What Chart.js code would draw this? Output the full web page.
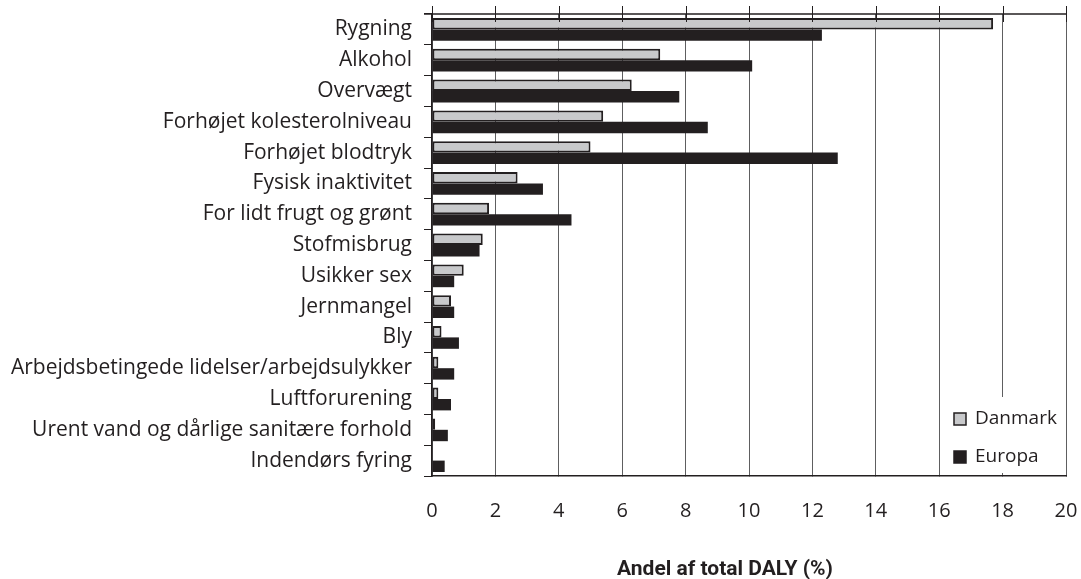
<!DOCTYPE html>
<html>
<head>
<meta charset="utf-8">
<script src="https://cdn.jsdelivr.net/npm/chart.js@4"></script>
<style>
  body { margin: 0; background: #fff; }
</style>
</head>
<body>
<canvas id="myGraph" width="1081" height="579"></canvas>
<script>
// Risikofaktorer (kategorier)
const categories = [
  "Rygning",
  "Alkohol",
  "Overvægt",
  "Forhøjet kolesterolniveau",
  "Forhøjet blodtryk",
  "Fysisk inaktivitet",
  "For lidt frugt og grønt",
  "Stofmisbrug",
  "Usikker sex",
  "Jernmangel",
  "Bly",
  "Arbejdsbetingede lidelser/arbejdsulykker",
  "Luftforurening",
  "Urent vand og dårlige sanitære forhold",
  "Indendørs fyring",
];

// Andel af total DALY (%)
const danmark = [17.7, 7.2, 6.3, 5.4, 5.0, 2.7, 1.8, 1.6, 1.0, 0.6, 0.3, 0.2, 0.2, 0.1, 0];
const europa = [12.3, 10.1, 7.8, 8.7, 12.8, 3.5, 4.4, 1.5, 0.7, 0.7, 0.85, 0.7, 0.6, 0.5, 0.4];

const seriesNames = ["Danmark", "Europa"];
const xTicks = [0, 2, 4, 6, 8, 10, 12, 14, 16, 18, 20];
const axisTitle = "Andel af total DALY (%)";

const ink = "#231f20";
const fontFamily = "'Open Sans', 'Noto Sans', sans-serif";

// ramme foroven med små streger
const topFrame = {
  id: "topFrame",
  afterDatasetsDraw(chart) {
    const { ctx, chartArea } = chart;
    const x = chart.scales.x;
    ctx.save();
    ctx.strokeStyle = ink;
    ctx.lineWidth = 1.5;
    ctx.beginPath();
    ctx.moveTo(chartArea.left - 8, chartArea.top);
    ctx.lineTo(chartArea.right, chartArea.top);
    ctx.stroke();
    ctx.lineWidth = 1;
    xTicks.forEach((v) => {
      const px = Math.round(x.getPixelForValue(v)) + 0.5;
      ctx.beginPath();
      ctx.moveTo(px, chartArea.top - 8);
      ctx.lineTo(px, chartArea.top + 8);
      ctx.stroke();
    });
    ctx.restore();
  },
};

// forklaring nederst til højre i plotområdet
const boxLegend = {
  id: "boxLegend",
  afterDraw(chart) {
    const { ctx, chartArea } = chart;
    const right = chartArea.right - 2;
    const bottom = chartArea.bottom - 3;
    const w = 118;
    const h = 76;
    ctx.save();
    ctx.fillStyle = "#fff";
    ctx.fillRect(right - w, bottom - h, w, h);
    ctx.font = "19px " + fontFamily;
    ctx.textBaseline = "middle";
    chart.data.datasets.forEach((ds, i) => {
      const cy = bottom - h + 22 + i * 38;
      const sx = right - w + 8;
      ctx.fillStyle = ds.backgroundColor;
      ctx.fillRect(sx, cy - 6, 12, 12);
      ctx.strokeStyle = ink;
      ctx.lineWidth = 1.5;
      ctx.strokeRect(sx, cy - 6, 12, 12);
      ctx.fillStyle = ink;
      ctx.fillText(ds.label, sx + 21, cy);
    });
    ctx.restore();
  },
};

// aksetitel
const axisLabel = {
  id: "axisLabel",
  afterDraw(chart) {
    const { ctx, chartArea } = chart;
    ctx.save();
    ctx.font = "bold 21px 'Liberation Sans Narrow', 'Roboto', sans-serif";
    ctx.fillStyle = ink;
    ctx.textAlign = "center";
    ctx.textBaseline = "alphabetic";
    ctx.fillText(axisTitle, (chartArea.left + chartArea.right) / 2 - 24, 575);
    ctx.restore();
  },
};

const ctx = document.getElementById("myGraph").getContext("2d");
const myChart = new Chart(ctx, {
  type: "bar",
  data: {
    labels: categories,
    datasets: [
      {
        label: seriesNames[0],
        data: danmark,
        backgroundColor: "#c8c9cb",
        borderColor: ink,
        borderWidth: 2,
        borderSkipped: false,
      },
      {
        label: seriesNames[1],
        data: europa,
        backgroundColor: ink,
        borderColor: ink,
        borderWidth: 0,
      },
    ],
  },
  options: {
    indexAxis: "y",
    responsive: false,
    animation: false,
    categoryPercentage: 0.74,
    barPercentage: 1,
    layout: {
      padding: { top: 14, right: 15, left: 0, bottom: 0 },
    },
    scales: {
      x: {
        min: 0,
        max: 20,
        afterFit: (scale) => {
          scale.height = 103;
          scale.paddingLeft = 0;
          scale.paddingRight = 0;
        },
        afterBuildTicks: (scale) => {
          scale.ticks = xTicks.map((v) => ({ value: v }));
        },
        ticks: {
          color: ink,
          font: { family: fontFamily, size: 20 },
          padding: 23,
        },
        grid: {
          color: "#5e5e60",
          lineWidth: 1,
          tickLength: 0,
        },
        border: {
          color: ink,
          width: 1.5,
        },
      },
      y: {
        afterFit: (scale) => {
          scale.width = 432;
          scale.paddingTop = 0;
          scale.paddingBottom = 0;
        },
        ticks: {
          color: ink,
          font: { family: fontFamily, size: 21 },
          padding: 12,
          autoSkip: false,
        },
        grid: {
          offset: true,
          drawOnChartArea: false,
          tickLength: 8,
          color: ink,
        },
        border: {
          color: ink,
          width: 1.5,
        },
      },
    },
    plugins: {
      legend: { display: false },
      tooltip: { enabled: false },
    },
  },
  plugins: [topFrame, boxLegend, axisLabel],
});
</script>
</body>
</html>
